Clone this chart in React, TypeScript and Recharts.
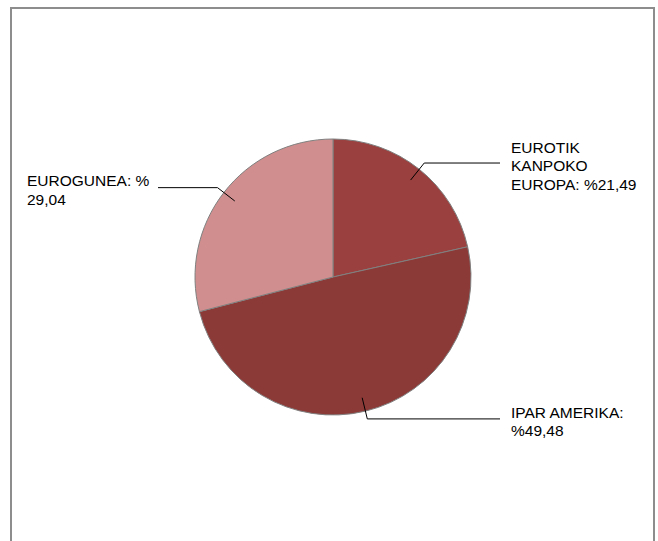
import { PieChart, Pie, Cell } from 'recharts';

// Kanpo-merkatuen banaketa (%)
const categories = ['EUROTIK KANPOKO EUROPA', 'IPAR AMERIKA', 'EUROGUNEA'];
const shares = [21.49, 49.48, 29.04];
const labelLines = [
  ['EUROTIK', 'KANPOKO', 'EUROPA: %21,49'],
  ['IPAR AMERIKA:', '%49,48'],
  ['EUROGUNEA: %', '29,04'],
];
const colors = ['#9a403e', '#8c3a38', '#d08f8e'];

const data = categories.map((name, i) => ({ name, value: shares[i] }));

const RADIAN = Math.PI / 180;
const LINE_H = 18.5;

const renderLabel = (props: any) => {
  const { cx, cy, midAngle, outerRadius, index } = props;
  const sin = Math.sin(-midAngle * RADIAN);
  const cos = Math.cos(-midAngle * RADIAN);
  const x0 = cx + outerRadius * 0.9 * cos;
  const y0 = cy + outerRadius * 0.9 * sin;
  const x1 = cx + (outerRadius + 8) * cos;
  const y1 = cy + (outerRadius + 8) * sin;
  const right = cos >= 0;
  const x2 = right ? cx + 167 : cx - 175;
  const tx = right ? x2 + 11 : cx - 306;
  const lines = labelLines[index];
  const mid = y1 + 2.5;
  const top = mid - ((lines.length - 1) * LINE_H) / 2;
  return (
    <g key={`lbl-${index}`}>
      <polyline
        points={`${x0},${y0} ${x1},${y1} ${x2},${y1}`}
        fill="none"
        stroke="#000"
        strokeWidth={1}
      />
      <text
        x={tx}
        y={top}
        fill="#000"
        fontSize={15.5}
        fontFamily="'Liberation Sans', Arial, sans-serif"
        textAnchor="start"
      >
        {lines.map((l, i) => (
          <tspan key={i} x={tx} y={top + i * LINE_H + 5.5}>
            {l}
          </tspan>
        ))}
      </text>
    </g>
  );
};

export default function App() {
  return (
    <div style={{ position: 'absolute', left: 0, top: 0, width: 658, height: 541, background: '#fff', overflow: 'hidden' }}>
      <div
        style={{
          position: 'absolute',
          left: 10,
          top: 7,
          width: 641,
          height: 540,
          borderTop: '2px solid #8d8d8d',
          borderLeft: '2px solid #8d8d8d',
          borderRight: '2px solid #8d8d8d',
        }}
      />
      <PieChart
        width={658}
        height={541}
        margin={{ top: 0, right: 0, bottom: 0, left: 0 }}
        style={{ position: 'absolute', left: 0, top: 0 }}
      >
        <Pie
          data={data}
          dataKey="value"
          nameKey="name"
          cx={333}
          cy={277}
          outerRadius={138}
          startAngle={90}
          endAngle={-270}
          stroke="#808080"
          strokeWidth={1}
          label={renderLabel}
          labelLine={false}
          isAnimationActive={false}
        >
          {data.map((entry, i) => (
            <Cell key={`cell-${i}`} fill={colors[i]} />
          ))}
        </Pie>
      </PieChart>
    </div>
  );
}
